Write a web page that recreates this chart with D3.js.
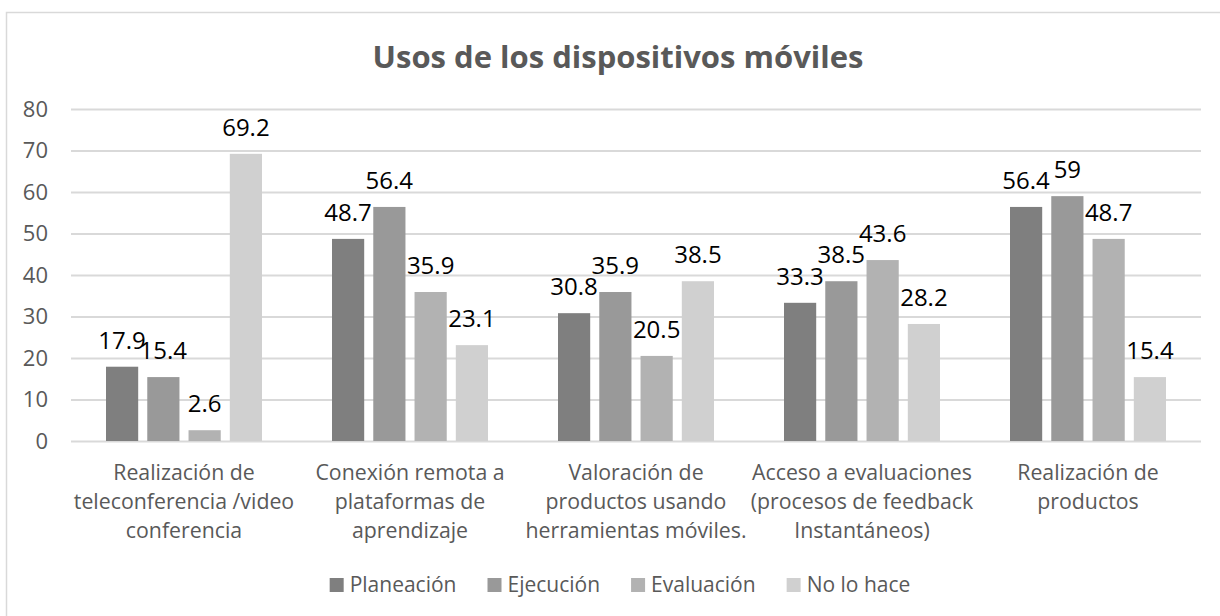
<!DOCTYPE html>
<html>
<head>
<meta charset="utf-8">
<script src="https://cdn.jsdelivr.net/npm/d3@7"></script>
<style>
  html, body { margin: 0; padding: 0; background: #fff; }
  svg { display: block; font-family: "Open Sans", sans-serif; }
</style>
</head>
<body>
<svg id="chart"></svg>
<script>
// data
const title = 'Usos de los dispositivos móviles';
const categories = [
  ['Realización de', 'teleconferencia /video', 'conferencia'],
  ['Conexión remota a', 'plataformas de', 'aprendizaje'],
  ['Valoración de', 'productos usando', 'herramientas móviles.'],
  ['Acceso a evaluaciones', '(procesos de feedback', 'Instantáneos)'],
  ['Realización de', 'productos'],
];
const seriesNames = ['Planeación', 'Ejecución', 'Evaluación', 'No lo hace'];
const planeacion = [17.9, 48.7, 30.8, 33.3, 56.4];
const ejecucion = [15.4, 56.4, 35.9, 38.5, 59];
const evaluacion = [2.6, 35.9, 20.5, 43.6, 48.7];
const noLoHace = [69.2, 23.1, 38.5, 28.2, 15.4];
const yTicks = [0, 10, 20, 30, 40, 50, 60, 70, 80];

const seriesValues = [planeacion, ejecucion, evaluacion, noLoHace];
const colors = ['#7f7f7f', '#999999', '#b2b2b2', '#d0d0d0'];

const W = 1220, H = 616;
const plot = { left: 71, right: 1201, top: 109, bottom: 441 };

const svg = d3.select('#chart').attr('width', W).attr('height', H);

// chart frame (right/bottom edges fall outside the picture)
svg.append('rect')
  .attr('x', 6.5).attr('y', 12.5)
  .attr('width', 1240).attr('height', 640)
  .attr('fill', '#fff')
  .attr('stroke', '#d9d9d9')
  .attr('stroke-width', 1.5);

svg.append('text')
  .attr('x', 618).attr('y', 68)
  .attr('text-anchor', 'middle')
  .style('font-size', '31px')
  .style('font-weight', 700)
  .style('fill', '#595959')
  .text(title);

const x0 = d3.scaleBand()
  .domain(d3.range(categories.length))
  .range([plot.left, plot.right]);

const x1 = d3.scaleBand()
  .domain(d3.range(seriesNames.length))
  .range([35, 191])
  .paddingInner(0.22);

const y = d3.scaleLinear()
  .domain([0, 80])
  .range([plot.bottom, plot.top]);

// gridlines + tick labels
const yAxis = svg.append('g')
  .attr('transform', `translate(${plot.left},0)`)
  .call(d3.axisLeft(y).tickValues(yTicks).tickSize(-(plot.right - plot.left)).tickPadding(23));

yAxis.select('.domain').remove();
yAxis.selectAll('.tick line').attr('stroke', '#d9d9d9').attr('stroke-width', 2);
yAxis.selectAll('.tick text')
  .style('font-family', '"Open Sans", sans-serif')
  .style('font-size', '22px')
  .style('fill', '#595959');

// bars
const groups = svg.append('g')
  .selectAll('g')
  .data(categories.map((c, i) => seriesValues.map((s, j) => ({ cat: i, ser: j, value: s[i] }))))
  .join('g')
  .attr('transform', (d, i) => `translate(${x0(i)},0)`);

groups.selectAll('rect')
  .data(d => d)
  .join('rect')
  .attr('x', d => x1(d.ser))
  .attr('y', d => y(d.value))
  .attr('width', x1.bandwidth())
  .attr('height', d => y(0) - y(d.value))
  .attr('fill', d => colors[d.ser]);

groups.selectAll('text')
  .data(d => d)
  .join('text')
  .attr('x', d => x1(d.ser) + x1.bandwidth() / 2)
  .attr('y', d => y(d.value) - 18)
  .attr('text-anchor', 'middle')
  .style('font-size', '24px')
  .style('fill', '#000')
  .text(d => d.value);

// category labels
const catLabels = svg.append('g')
  .selectAll('text')
  .data(categories)
  .join('text')
  .attr('x', (d, i) => x0(i) + x0.bandwidth() / 2)
  .attr('y', 480)
  .attr('text-anchor', 'middle')
  .style('font-size', '21.3px')
  .style('fill', '#595959');

catLabels.selectAll('tspan')
  .data(d => d)
  .join('tspan')
  .attr('x', function () { return d3.select(this.parentNode).attr('x'); })
  .attr('dy', (d, i) => i === 0 ? 0 : 29)
  .text(d => d);

// legend, laid out from measured text widths
const legend = svg.append('g').attr('transform', 'translate(0,592)');
const sw = 14, textGap = 6, itemGap = 31;
const items = legend.selectAll('g')
  .data(seriesNames)
  .join('g');

items.append('rect')
  .attr('y', -sw)
  .attr('width', sw).attr('height', sw)
  .attr('fill', (d, i) => colors[i]);

items.append('text')
  .attr('x', sw + textGap)
  .style('font-size', '21px')
  .style('fill', '#595959')
  .text(d => d);

const widths = [];
items.each(function () {
  const w = sw + textGap + d3.select(this).select('text').node().getComputedTextLength();
  widths.push(w);
});
const total = d3.sum(widths) + itemGap * (widths.length - 1);
let cx = 620 - total / 2;
items.attr('transform', (d, i) => {
  const t = `translate(${cx},0)`;
  cx += widths[i] + itemGap;
  return t;
});
</script>
</body>
</html>
